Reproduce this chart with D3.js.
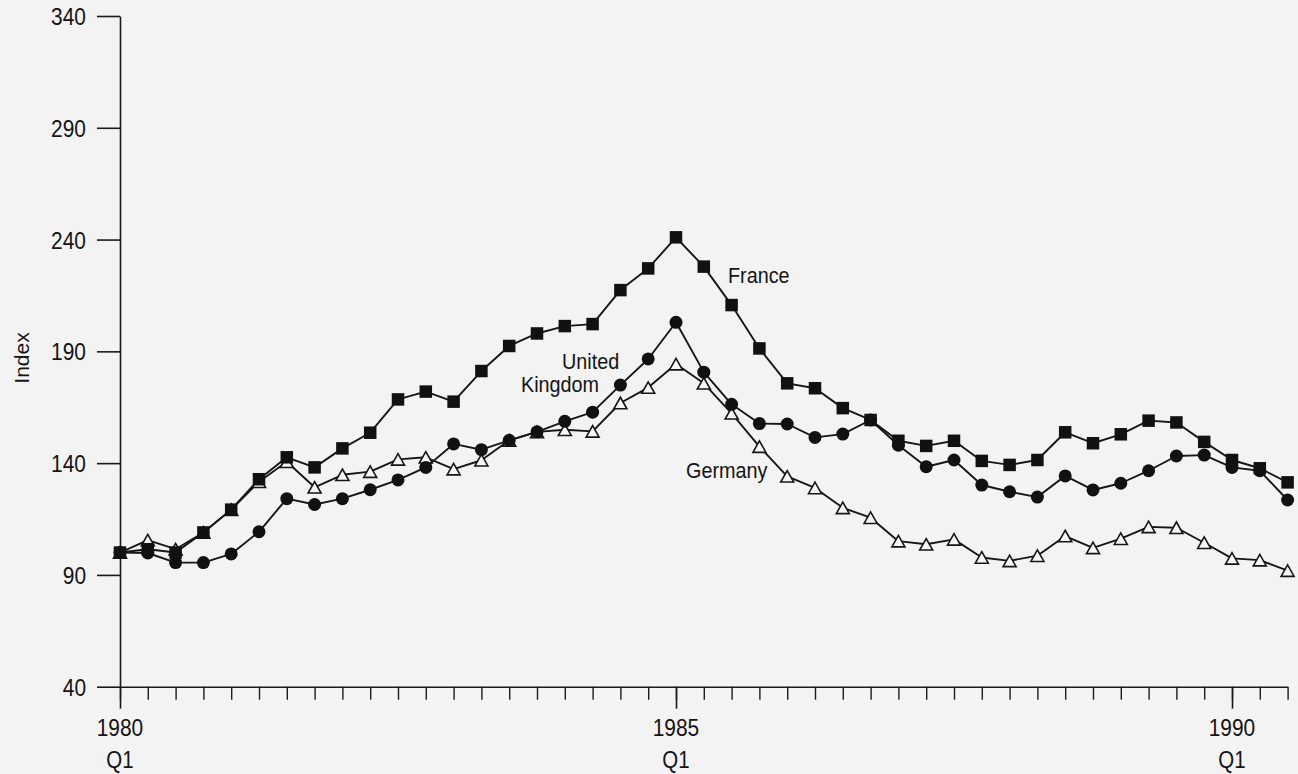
<!DOCTYPE html>
<html>
<head>
<meta charset="utf-8">
<script src="https://cdn.jsdelivr.net/npm/d3@7"></script>
<style>
  html, body { margin: 0; padding: 0; background: #f3f3f3; }
  svg { display: block; }
  text { font-family: "Liberation Sans", Arial, sans-serif; fill: #141414; }
</style>
</head>
<body>
<svg id="chart" width="1298" height="774"></svg>
<script>
// ---- data (quarterly index, 1980 Q1 = 100) ----
const quarters = d3.range(43).map(i => (1980 + Math.floor(i / 4)) + " Q" + (i % 4 + 1));

const france = [
  100, 101.5, 100, 109, 119.2, 132.8, 142.6, 138.1, 146.6, 153.6,
  168.5, 172, 167.5, 181.2, 192.4, 198, 201.3, 202.2, 217.4, 227.1,
  241, 227.9, 210.7, 191.3, 175.7, 173.5, 164.6, 159.3, 150, 147.7,
  150, 141, 139.2, 141.4, 153.8, 148.9, 152.9, 159, 158.2, 149.5,
  141.4, 137.7, 131.4
];
const unitedKingdom = [
  100, 99.8, 95.5, 95.5, 99.4, 109.3, 124.1, 121.5, 124.1, 128.1,
  132.5, 138.1, 148.6, 146, 150.2, 154, 158.7, 162.8, 174.9, 186.6,
  203, 180.7, 166.3, 157.7, 157.5, 151.5, 153, 159.3, 148, 138.4,
  141.4, 130.2, 127.2, 124.8, 134.3, 128, 131, 136.6, 143.2, 143.6,
  138.1, 136.6, 123.5
];
const germany = [
  100, 105.6, 101.5, 109, 119.2, 131.7, 140.6, 129.2, 134.8, 136.2,
  141.7, 142.6, 137.3, 141.3, 150.2, 154, 154.9, 154.2, 166.9, 173.8,
  184.3, 175.7, 162.3, 147.4, 134.1, 128.9, 120, 115.6, 105.1, 103.7,
  105.9, 97.8, 96.3, 98.6, 107.4, 102.1, 106.2, 111.5, 111.1, 104.4,
  97.4, 96.6, 91.9
];

const yTicks = [40, 90, 140, 190, 240, 290, 340];
const majorTickIndex = [0, 20, 40];
const yearLabels = ["1980", "1985", "1990"];
const quarterLabel = "Q1";
const yAxisTitle = "Index";
const seriesLabels = ["France", "United", "Kingdom", "Germany"];

// ---- layout ----
const svg = d3.select("#chart");
const x = d3.scaleLinear().domain([0, 42]).range([120, 1287.6]);
const y = d3.scaleLinear().domain([40, 340]).range([686.7, 16]);
const INK = "#1a1a1a";

// horizontally condense a text element (narrow typeface look)
function condense(sel, s) {
  sel.each(function () {
    const t = d3.select(this);
    const x0 = +t.attr("x") || 0;
    t.attr("x", x0 / s).attr("transform", `scale(${s},1)`);
  });
}

// y axis
const yAxisG = svg.append("g")
  .attr("transform", `translate(${x(0)},0)`)
  .call(d3.axisLeft(y).tickValues(yTicks).tickSize(23).tickPadding(11).tickSizeOuter(0));
yAxisG.select(".domain").attr("stroke", INK).attr("stroke-width", 1.6);
yAxisG.selectAll(".tick line").attr("stroke", INK).attr("stroke-width", 1.6);
yAxisG.selectAll(".tick text")
  .style("font-size", "23.5px").style("font-family", '"Liberation Sans", Arial, sans-serif')
  .attr("fill", "#141414").attr("dy", "0.36em")
  .call(condense, 0.89);

// x axis minor ticks
const xAxisG = svg.append("g")
  .attr("transform", `translate(0,${y(40)})`)
  .call(d3.axisBottom(x).tickValues(d3.range(quarters.length)).tickSize(13).tickFormat("").tickSizeOuter(0));
xAxisG.select(".domain").attr("stroke", INK).attr("stroke-width", 1.6);
xAxisG.selectAll(".tick line").attr("stroke", INK).attr("stroke-width", 1.4);

// x axis major ticks
const xMajorG = svg.append("g")
  .attr("transform", `translate(0,${y(40)})`)
  .call(d3.axisBottom(x).tickValues(majorTickIndex).tickSize(22).tickFormat("").tickSizeOuter(0));
xMajorG.select(".domain").remove();
xMajorG.selectAll(".tick line").attr("stroke", INK).attr("stroke-width", 1.6);

majorTickIndex.forEach((qi, k) => {
  svg.append("text").attr("x", x(qi)).attr("y", 736).attr("text-anchor", "middle")
    .style("font-size", "23.5px").text(yearLabels[k]).call(condense, 0.89);
  svg.append("text").attr("x", x(qi)).attr("y", 768).attr("text-anchor", "middle")
    .style("font-size", "23px").text(quarterLabel).call(condense, 0.89);
});

// y axis title
svg.append("text")
  .attr("transform", "translate(29,358) rotate(-90)")
  .attr("text-anchor", "middle")
  .style("font-size", "21px")
  .text(yAxisTitle);

// ---- series ----
const line = d3.line().x((d, i) => x(i)).y(d => y(d));

function drawLine(data) {
  svg.append("path").datum(data)
    .attr("fill", "none").attr("stroke", "#161616").attr("stroke-width", 1.9)
    .attr("stroke-linejoin", "round")
    .attr("d", line);
}
drawLine(germany);
drawLine(unitedKingdom);
drawLine(france);

// Germany: open triangles
const triH = 11.5, triW = 13;
svg.append("g").selectAll("path").data(germany).join("path")
  .attr("d", (d, i) => {
    const cx = x(i), cy = y(d);
    return `M${cx},${cy - triH / 2}L${cx + triW / 2},${cy + triH / 2}L${cx - triW / 2},${cy + triH / 2}Z`;
  })
  .attr("fill", "#f6f6f6").attr("stroke", "#161616").attr("stroke-width", 1.6)
  .attr("stroke-linejoin", "miter");

// United Kingdom: filled circles
svg.append("g").selectAll("circle").data(unitedKingdom).join("circle")
  .attr("cx", (d, i) => x(i)).attr("cy", d => y(d)).attr("r", 6.5)
  .attr("fill", "#111");

// France: filled squares
const sq = 12.5;
svg.append("g").selectAll("rect").data(france).join("rect")
  .attr("x", (d, i) => x(i) - sq / 2).attr("y", d => y(d) - sq / 2)
  .attr("width", sq).attr("height", sq)
  .attr("fill", "#111");

// series labels
const labelPos = [[728, 283], [562, 369], [521, 392], [686, 478]];
seriesLabels.forEach((t, k) => {
  svg.append("text").attr("x", labelPos[k][0]).attr("y", labelPos[k][1])
    .style("font-size", "22px").text(t).call(condense, 0.9);
});
</script>
</body>
</html>
